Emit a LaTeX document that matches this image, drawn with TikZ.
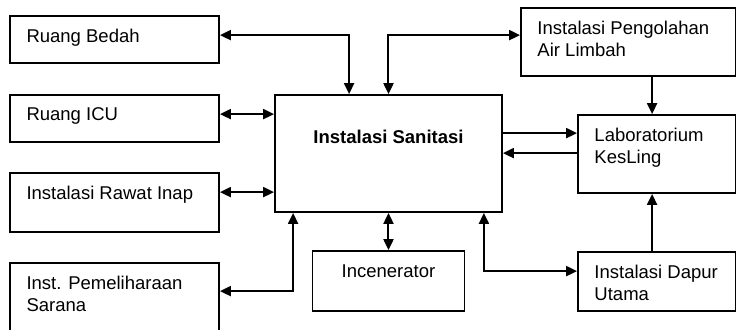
\documentclass[tikz,border=0pt]{standalone}
\usepackage{fontspec}
\setmainfont{Liberation Sans}
\usetikzlibrary{arrows.meta}

\begin{document}
\begin{tikzpicture}[
    x=0.5pt, y=-0.5pt,
    font=\fontsize{9.25}{11}\selectfont,
    box/.style={rectangle, draw=black, line width=0.9pt, minimum width=104.5pt},
    txt/.style={label={[anchor=north west, inner sep=0pt, align=left, xshift=8.5pt, yshift=-6.75pt]north west:#1}},
    arr/.style={line width=1pt, -{Triangle[length=5.5pt, width=5pt]}},
    biarr/.style={line width=1pt, {Triangle[length=5.5pt, width=5pt]}-{Triangle[length=5.5pt, width=5pt]}}
]
    \useasboundingbox (0,0) rectangle (736,329);

    % Units on the left
    \node[box, minimum height=23.5pt, txt={Ruang Bedah}] (bedah) at (114.5, 39.5) {};
    \node[box, minimum height=23.5pt, txt={Ruang ICU}] (icu) at (114.5, 118.5) {};
    \node[box, minimum height=29.5pt, txt={Instalasi Rawat Inap}] (rawat) at (114.5, 202.5) {};
    \node[box, minimum height=38pt, txt={Inst. Pemeliharaan\\Sarana}] (pem) at (114.5, 301) {};

    % Centre
    \node[box, minimum width=113.5pt, minimum height=58.5pt,
          label={[yshift=8.25pt]center:\textbf{Instalasi Sanitasi}}] (sanit) at (388.5, 153.5) {};
    \node[box, minimum width=76pt, minimum height=30pt,
          label={[anchor=north, inner sep=0pt, yshift=-7.35pt]above:Incenerator}] (incen) at (388.5, 281) {};

    % Units on the right
    \node[box, minimum width=107.25pt, minimum height=34pt, txt={Instalasi Pengolahan\\Air Limbah}] (ipal) at (628.25, 42) {};
    \node[box, minimum width=78.75pt, minimum height=39pt, txt={Laboratorium\\KesLing}] (lab) at (656.75, 154) {};
    \node[box, minimum width=78.75pt, minimum height=29.5pt, txt={Instalasi Dapur\\Utama}] (dapur) at (656.75, 281.5) {};

    % Left links
    \draw[biarr] ([yshift=-10pt]bedah.north east) -| ([xshift=37.5pt]sanit.north west);
    \draw[biarr] ([yshift=-10pt]icu.north east) -- ([yshift=-10pt]sanit.north west);
    \draw[biarr] ([yshift=-10pt]rawat.north east) -- ([yshift=-49pt]sanit.north west);
    \draw[biarr] ([yshift=-14.5pt]pem.north east) -| ([xshift=9.5pt]sanit.south west);

    % Bottom links
    \draw[biarr] (sanit.south) -- (incen.north);
    \draw[biarr] ([xshift=-9.5pt]sanit.south east) |- ([yshift=-10pt]dapur.north west);

    % Right links
    \draw[biarr] (sanit.north) |- ([yshift=-14pt]ipal.north west);
    \draw[arr] ([xshift=66pt]ipal.south west) -- ([xshift=37.5pt]lab.north west);
    \draw[arr] ([xshift=37.5pt]dapur.north west) -- ([xshift=37.5pt]lab.south west);
    \draw[arr] ([yshift=-19.5pt]sanit.north east) -- ([yshift=-9.5pt]lab.north west);
    \draw[arr] ([yshift=-19.5pt]lab.north west) -- ([yshift=-29.5pt]sanit.north east);

\end{tikzpicture}
\end{document}
